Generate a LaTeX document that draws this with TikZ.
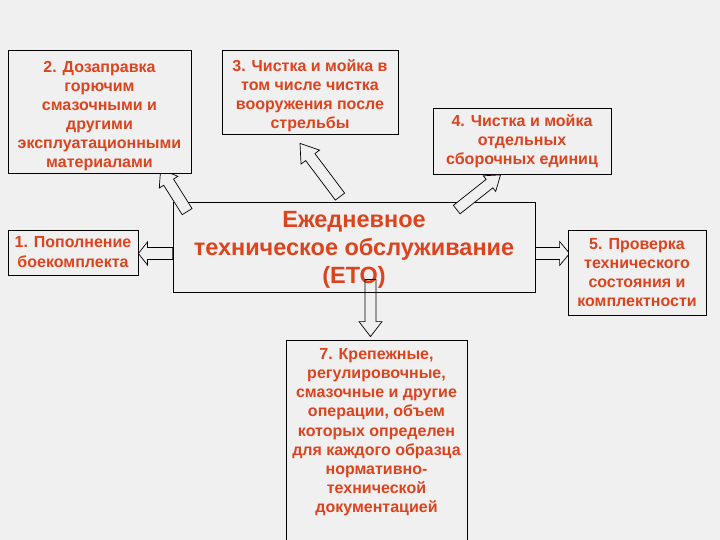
\documentclass[tikz,border=0pt]{standalone}
\usepackage{fontspec}
\setmainfont{Liberation Sans}
\usetikzlibrary{calc}
\definecolor{bgc}{RGB}{240,240,240}
\definecolor{txt}{RGB}{221,68,30}
\pgfdeclarelayer{back}
\pgfdeclarelayer{mid}
\pgfsetlayers{back,mid,main}
% block arrow from #2 (tail centre) to #3 (tip); #4 shaft half width, #5 head half width, #6 head length
\newcommand\blkarrow[6][fill=bgc]{%
  \path[draw=black, line width=0.7pt, line join=miter, #1]
    let \p1=(#2), \p2=(#3),
        \n1={atan2(\y2-\y1,\x2-\x1)},
        \n2={veclen(\x2-\x1,\y2-\y1)} in
    ($(\p1)+(\n1+90:#4)$)
    -- ($(\p1)+(\n1:{\n2-#6})+(\n1+90:#4)$)
    -- ($(\p1)+(\n1:{\n2-#6})+(\n1+90:#5)$)
    -- (\p2)
    -- ($(\p1)+(\n1:{\n2-#6})+(\n1-90:#5)$)
    -- ($(\p1)+(\n1:{\n2-#6})+(\n1-90:#4)$)
    -- ($(\p1)+(\n1-90:#4)$) -- cycle;}
\newcommand\topstrut[1]{\rule{0pt}{#1}}
\begin{document}
\begin{tikzpicture}[x=1pt,y=-1pt,
  box/.style={draw=black, line width=0.8pt, fill=bgc, text=txt,
    font=\bfseries\fontsize{16}{19}\selectfont, align=center, inner sep=0pt},
  bigbox/.style={box, font=\bfseries\fontsize{23.5}{28}\selectfont},
  txtonly/.style={text=txt, font=\bfseries\fontsize{16}{19.2}\selectfont, align=center, inner sep=0pt}]
\clip (0,0) rectangle (720,540);
\begin{pgfonlayer}{back}
\fill[bgc] (0,0) rectangle (720,540);
\node[bigbox, minimum width=362, minimum height=90] (ctr) at (354,247)
  {\topstrut{22pt}Ежедневное\\техническое обслуживание\\(ЕТО)};
\end{pgfonlayer}

\node[box, minimum width=130, minimum height=45, font=\bfseries\fontsize{16}{20}\selectfont] (b1) at (73,252.5)
  {1. Пополнение\\боекомплекта};
\node[box, minimum width=183, minimum height=123] (b2) at (99.5,111.5)
  {\topstrut{21pt}2. Дозаправка\\горючим\\смазочными и\\другими\\эксплуатационными\\материалами};
\node[box, minimum width=176, minimum height=84] (b3) at (310,92)
  {\topstrut{19.5pt}3. Чистка и мойка в\\том числе чистка\\вооружения после\\стрельбы};
\node[box, minimum width=178, minimum height=66] (b4) at (522,141)
  {4. Чистка и мойка\\отдельных\\сборочных единиц};
\node[box, minimum width=138, minimum height=85] (b5) at (637,272.5)
  {5. Проверка\\технического\\состояния и\\комплектности};
\node[box, minimum width=181, minimum height=210] (b7) at (376.5,445) {};
\node[txtonly, anchor=north] (b7t) at ($(b7.north)+(0,8.5)$)
  {7. Крепежные,\\регулировочные,\\смазочные и другие\\операции, объем\\которых определен\\для каждого образца\\нормативно-\\технической\\документацией};

\coordinate (a1s) at ($(ctr.west)+(0,6.5)$);
\coordinate (a1t) at (b1.east |- a1s);
\coordinate (a5s) at ($(ctr.east)+(0,6.5)$);
\coordinate (a5t) at ($(b5.west |- a5s)+(2,0)$);
\coordinate (a7s) at ($(ctr.south)+(16.5,-13)$);
\coordinate (a7t) at ($(b7.north)+(-6,-3)$);
\coordinate (a2s) at ($(ctr.north west)+(14.5,10)$);
\coordinate (a2t) at ($(b2.south west)+(153,-4)$);
\coordinate (a3s) at ($(ctr.north)+(-14,-5)$);
\coordinate (a3t) at ($(b3.south)+(-10,9)$);
\coordinate (a4s) at ($(ctr.north east)+(-78.7,8)$);
\coordinate (a4t) at ($(b4.south)+(-21.5,0.5)$);

\begin{pgfonlayer}{mid}
\blkarrow{a1s}{a1t}{6pt}{11.5pt}{9pt}
\blkarrow{a5s}{a5t}{6pt}{12pt}{10pt}
\blkarrow[fill=none]{a7s}{a7t}{5.5pt}{11.5pt}{15pt}
\blkarrow{a2s}{a2t}{5.8pt}{11pt}{15pt}
\blkarrow{a3s}{a3t}{5.8pt}{11.6pt}{17pt}
\blkarrow{a4s}{a4t}{5.4pt}{10pt}{14pt}
\end{pgfonlayer}
\end{tikzpicture}
\end{document}
